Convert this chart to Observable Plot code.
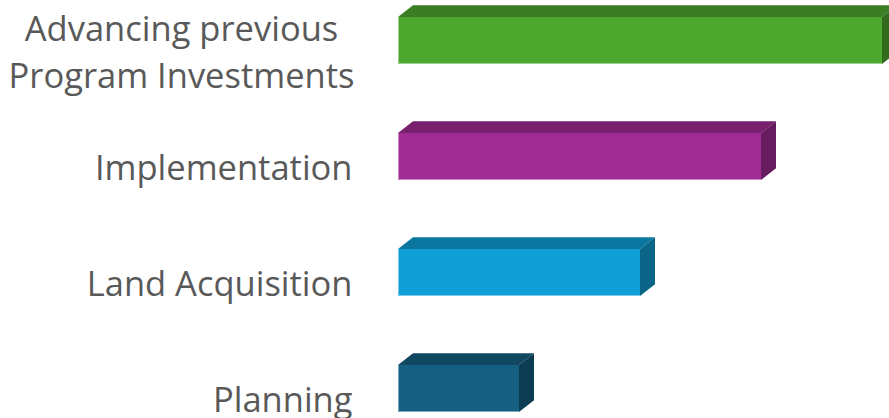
<!DOCTYPE html>
<html><head><meta charset="utf-8">
<script src="https://cdn.jsdelivr.net/npm/d3@7"></script>
<script src="https://cdn.jsdelivr.net/npm/@observablehq/plot@0.6"></script>
<style>html,body{margin:0;padding:0;overflow:hidden;background:#fff}</style>
</head><body><div id="chart"></div>
<script>
const categories = ["Advancing previous\nProgram Investments", "Implementation", "Land Acquisition", "Planning"];
const values = [4, 3, 2, 1];
const barColors = ["#4EA72E", "#A02B93", "#0F9ED5", "#156082"];

const data = categories.map((c, i) => ({category: c, value: values[i]}));

function shade(c, k) {
  const r = d3.rgb(c);
  return d3.rgb(r.r * k, r.g * k, r.b * k).formatHex();
}

function bars3d(index, scales, v, dims, ctx, next) {
  const g = next(index, scales, v, dims, ctx);
  const bw = typeof scales.y.bandwidth === "function" ? scales.y.bandwidth() : scales.y.bandwidth;
  const dx = 15, dy = 11.7;
  const sel = d3.select(g);
  for (const i of index) {
    const xa = Math.min(v.x1[i], v.x2[i]), xb = Math.max(v.x1[i], v.x2[i]);
    const ya = v.y[i], yb = ya + bw;
    const c = v.fill[i];
    sel.append("path")
      .attr("d", `M${xa},${ya}L${xa + dx},${ya - dy}L${xb + dx},${ya - dy}L${xb},${ya}Z`)
      .attr("fill", shade(c, 0.75));
    sel.append("path")
      .attr("d", `M${xb},${ya}L${xb + dx},${ya - dy}L${xb + dx},${yb - dy}L${xb},${yb}Z`)
      .attr("fill", shade(c, 0.64));
    sel.append("path")
      .attr("d", `M${xa + 0.5},${ya}L${xa + 0.5},${yb - 0.5}L${xb},${yb - 0.5}`)
      .attr("fill", "none")
      .attr("stroke", d3.interpolateRgb(c, "#ffffff")(0.45))
      .attr("stroke-width", 1);
  }
  return g;
}

const labelStyle = {fontSize: 34.5, fill: "#595959", lineAnchor: "middle", lineHeight: 1.37};

const chart = Plot.plot({
  width: 889,
  height: 418,
  marginLeft: 398,
  marginRight: 7,
  marginTop: 16,
  marginBottom: 6,
  style: {fontFamily: "'Open Sans', sans-serif", background: "#fff"},
  x: {domain: [0, 4], axis: null},
  y: {domain: categories, paddingInner: 0.597, paddingOuter: 0, axis: null},
  color: {domain: categories, range: barColors},
  marks: [
    Plot.barX(data, {x: "value", y: "category", fill: "category", render: bars3d}),
    Plot.text(data.filter(d => !d.category.includes("\n")), {
      x: () => 0, y: "category", text: "category", textAnchor: "end", dx: -46, dy: 8, ...labelStyle
    }),
    Plot.text(data.filter(d => d.category.includes("\n")), {
      x: () => 0, y: "category", text: "category", textAnchor: "middle", dx: -217, dy: 8.5, ...labelStyle
    })
  ]
});
document.getElementById("chart").appendChild(chart);
</script>
</body></html>
